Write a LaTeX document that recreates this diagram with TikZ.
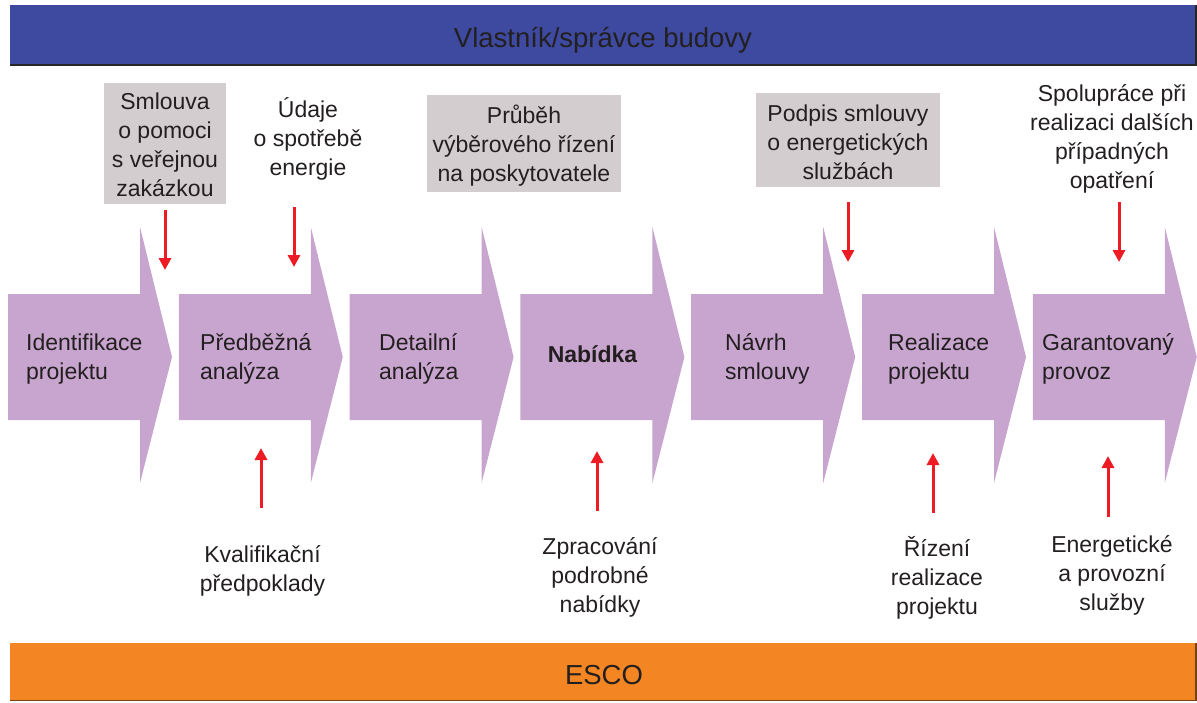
\documentclass[tikz,border=0pt]{standalone}
\usepackage{fontspec}
\setmainfont{Liberation Sans}
\usetikzlibrary{arrows.meta}
\definecolor{ownerblue}{RGB}{61,74,159}
\definecolor{escoorange}{RGB}{243,134,34}
\definecolor{chevpurple}{RGB}{200,165,206}
\definecolor{boxgray}{RGB}{211,205,207}
\definecolor{redarrow}{RGB}{237,28,36}
\definecolor{txt}{RGB}{35,31,32}
\begin{document}
\begin{tikzpicture}[x=1pt,y=-1pt,
  every node/.style={text=txt, font=\fontsize{23}{29}\selectfont, inner sep=0pt},
  lbl/.style={align=center},
  graybox/.style={fill=boxgray, inner sep=0pt},
  chev/.style={fill=chevpurple},
  steptext/.style={anchor=west, align=left},
  feed/.style={draw=redarrow, line width=3pt, -{Triangle[width=12pt,length=12pt]}},
  bartext/.style={anchor=base, font=\fontsize{27.5}{33}\selectfont}]
\useasboundingbox (0,0) rectangle (1197,702);
% bars
\fill[ownerblue] (10,5) rectangle (1195,64);
\draw[black!85, line width=2.5pt] (10,65.2) -- (1196,65.2) -- (1196,5);
\node[bartext] (owner) at (603,47) {Vlastník/správce budovy};
\fill[escoorange] (10,643) rectangle (1195,700);
\draw[black!50!escoorange, line width=1.5pt] (10,700.5) -- (1196,700.5) -- (1196,643);
\node[bartext] (esco) at (604,684) {ESCO};
% chevrons
\foreach \x in {8,178.8,349.6,520.4,691.2,862,1032.8}
  \fill[chev] (\x,294) -- (\x+132,294) -- (\x+132,227) -- (\x+164,357) -- (\x+132,483) -- (\x+132,420) -- (\x,420) -- cycle;
% step texts
\node[steptext] (s1) at (26,359) {\strut Identifikace\\\strut projektu};
\node[steptext] (s2) at (200,359) {\strut Předběžná\\\strut analýza};
\node[steptext] (s3) at (379,359) {\strut Detailní\\\strut analýza};
\node[anchor=base, font=\fontsize{23}{29}\selectfont\bfseries] (s4) at (592.5,362.5) {Nabídka};
\node[steptext] (s5) at (725,359) {\strut Návrh\\\strut smlouvy};
\node[steptext] (s6) at (888,359) {\strut Realizace\\\strut projektu};
\node[steptext] (s7) at (1042,359) {\strut Garantovaný\\\strut provoz};
% top boxes and labels
\node[graybox, minimum width=122pt, minimum height=121pt] (b1) at (165,143.5) {};
\node[lbl] (t1) at (165,146.7) {\strut Smlouva\\\strut o pomoci\\\strut s veřejnou\\\strut zakázkou};
\node[lbl] (t2) at (308,140.5) {\strut Údaje\\\strut o spotřebě\\\strut energie};
\node[graybox, minimum width=194pt, minimum height=97pt] (b3) at (524,143.5) {};
\node[lbl] (t3) at (524,146.5) {\strut Průběh\\\strut výběrového řízení\\\strut na poskytovatele};
\node[graybox, minimum width=184pt, minimum height=94pt] (b5) at (848,140) {};
\node[lbl] (t5) at (848,144.5) {\strut Podpis smlouvy\\\strut o energetických\\\strut službách};
\node[lbl] (t7) at (1112,139.4) {\strut Spolupráce při\\\strut realizaci dalších\\\strut případných\\\strut opatření};
% bottom labels
\node[lbl] (u2) at (262.5,571.4) {\strut Kvalifikační\\\strut předpoklady};
\node[lbl] (u4) at (600,577.2) {\strut Zpracování\\\strut podrobné\\\strut nabídky};
\node[lbl] (u6) at (937,579.2) {\strut Řízení\\\strut realizace\\\strut projektu};
\node[lbl] (u7) at (1112,575.9) {\strut Energetické\\\strut a provozní\\\strut služby};
% red arrow end points
\coordinate (d1a) at (165,210); \coordinate (d1b) at (165,270);
\coordinate (d2a) at (294,207); \coordinate (d2b) at (294,267);
\coordinate (d3a) at (848,202); \coordinate (d3b) at (848,262);
\coordinate (d4a) at (1119,202); \coordinate (d4b) at (1119,262);
\coordinate (e1a) at (261,508); \coordinate (e1b) at (261,448);
\coordinate (e2a) at (597,511); \coordinate (e2b) at (597,451);
\coordinate (e3a) at (933,513); \coordinate (e3b) at (933,453);
\coordinate (e4a) at (1108,517); \coordinate (e4b) at (1108,456);
\foreach \p in {d1,d2,d3,d4,e1,e2,e3,e4}
  \draw[feed] (\p a) -- (\p b);
\end{tikzpicture}
\end{document}
